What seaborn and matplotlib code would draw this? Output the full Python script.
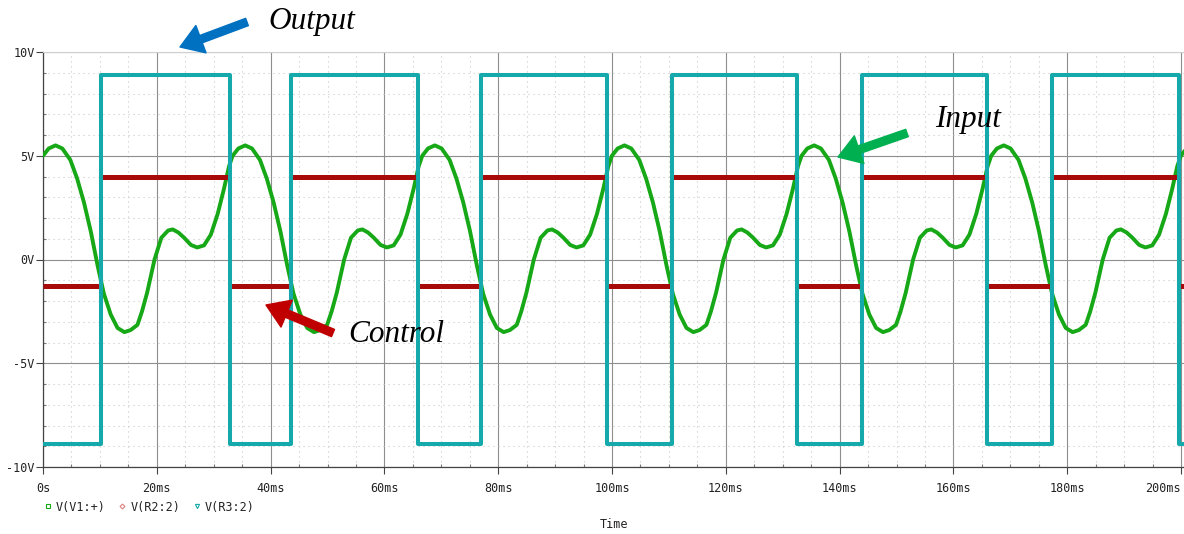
"""Schmitt trigger transient: input, control (threshold) and output traces."""

import matplotlib
matplotlib.use("Agg")
import matplotlib.pyplot as plt
from matplotlib.lines import Line2D
from matplotlib.ticker import MultipleLocator, FuncFormatter
import numpy as np
import pandas as pd
import seaborn as sns

# --- data (time in ms, voltages in V) ---
PERIOD = 33.33
N_CYCLES = 7
T_END = 201.0

# one cycle of the input V(V1:+)
cycle_t = [0.0, 1.0, 2.2, 3.4, 4.8, 6.0, 7.2, 8.4, 9.6, 10.7, 11.9, 13.1, 14.3,
           15.4, 16.6, 17.4, 18.3, 19.6, 20.8, 22.0, 22.8, 23.8, 24.8, 26.0,
           27.1, 28.3, 29.5, 30.7, 31.8, 32.7]
cycle_v = [5.0, 5.35, 5.5, 5.35, 4.8, 3.9, 2.75, 1.35, -0.3, -1.65, -2.65, -3.3,
           -3.5, -3.4, -3.15, -2.5, -1.6, 0.0, 1.05, 1.4, 1.45, 1.3, 1.05, 0.7,
           0.58, 0.68, 1.2, 2.2, 3.4, 4.5]

# switching instants of the comparator output
rise_t = [10.2, 43.6, 77.0, 110.5, 143.9, 177.3]
fall_t = [32.9, 65.9, 99.1, 132.5, 165.9, 199.6]

out_hi, out_lo = 8.9, -8.9     # V(R3:2)
ctl_hi, ctl_lo = 4.0, -1.3     # V(R2:2)

x_ticks = [0, 20, 40, 60, 80, 100, 120, 140, 160, 180, 200]
y_ticks = [-10, -5, 0, 5, 10]

GREEN = "#17a817"
RED = "#a80a0a"
CYAN = "#15a9ac"
FS = 8.5


def step_trace(hi, lo):
    t = [0.0]
    v = [lo]
    for r, f in zip(rise_t, fall_t):
        t += [r, f]
        v += [hi, lo]
    t.append(T_END)
    v.append(lo)
    return pd.DataFrame({"t": t, "v": v})


def level_segments(hi, lo):
    # horizontal pieces only, one unit per piece (no vertical edges)
    edges = [0.0] + sorted(rise_t + fall_t) + [T_END]
    rows = []
    for i in range(len(edges) - 1):
        lvl = lo if i % 2 == 0 else hi
        rows.append({"seg": i, "t": edges[i], "v": lvl})
        rows.append({"seg": i, "t": edges[i + 1], "v": lvl})
    return pd.DataFrame(rows)


inp = pd.DataFrame({
    "t": np.concatenate([np.array(cycle_t) + k * PERIOD for k in range(N_CYCLES)]),
    "v": np.tile(cycle_v, N_CYCLES),
})
ctl = level_segments(ctl_hi, ctl_lo)
out = step_trace(out_hi, out_lo)

sns.set_style("white")
plt.rcParams["font.family"] = ["DejaVu Sans Mono"]

W, H = 1184, 534
fig = plt.figure(figsize=(W / 100, H / 100), dpi=100)
ax = fig.add_axes([43 / W, 1 - 467 / H, (W - 43) / W, 415 / H])

sns.lineplot(data=inp, x="t", y="v", ax=ax, color=GREEN, lw=2.8,
             sort=False, estimator=None, zorder=3)
sns.lineplot(data=ctl, x="t", y="v", units="seg", ax=ax, color=RED, lw=3.6,
             sort=False, estimator=None, zorder=4, solid_capstyle="butt")
sns.lineplot(data=out, x="t", y="v", ax=ax, color=CYAN, lw=2.9,
             sort=False, estimator=None, drawstyle="steps-post", zorder=5)

ax.set_xlim(0, (W - 43) / 5.69)
ax.set_ylim(-10, 10)
ax.set_xticks(x_ticks)
ax.set_yticks(y_ticks)
ax.xaxis.set_minor_locator(MultipleLocator(5))
ax.yaxis.set_minor_locator(MultipleLocator(1))
ax.xaxis.set_major_formatter(FuncFormatter(lambda v, p: "0s" if v == 0 else f"{v:.0f}ms"))
ax.yaxis.set_major_formatter(FuncFormatter(lambda v, p: f"{v:.0f}V"))

ax.grid(which="major", color="#8e8e8e", lw=0.8, ls="-", zorder=0)
ax.grid(which="minor", color="#c8c8c8", lw=0.8, ls=(0, (1, 3.5)), zorder=0)
ax.set_axisbelow(True)

ax.tick_params(which="major", direction="out", length=5, width=0.8, color="#444444",
               labelsize=FS, labelcolor="#222222", bottom=True, left=True)
ax.tick_params(axis="x", which="major", pad=6)
ax.tick_params(axis="y", which="major", pad=1)
ax.tick_params(which="minor", direction="in", length=2, width=0.8, color="#777777",
               bottom=True, left=True)
for side in ["left", "bottom"]:
    ax.spines[side].set_color("#444444")
    ax.spines[side].set_linewidth(0.9)
ax.spines["top"].set_color("#d0d0d0")
ax.spines["top"].set_linewidth(0.8)
ax.spines["right"].set_visible(False)

# last label kept inside the frame, as the simulator does
fig.canvas.draw()
ax.get_xticklabels()[-1].set_ha("right")

ax.set_ylabel("")
ax.set_xlabel("Time", fontsize=FS, color="#222222")
ax.xaxis.set_label_coords(0.5, (467 - 525) / 415)
ax.xaxis.label.set_va("center")

handles = [
    Line2D([], [], ls="none", marker="s", ms=3, mfc="none", mec=GREEN, mew=0.8),
    Line2D([], [], ls="none", marker="D", ms=2.5, mfc="none", mec="#e08080", mew=0.8),
    Line2D([], [], ls="none", marker="v", ms=3, mfc="none", mec=CYAN, mew=0.8),
]
fig.legend(handles, ["V(V1:+)", "V(R2:2)", "V(R3:2)"], ncol=3, frameon=False,
           loc="center left", bbox_to_anchor=(44 / W, 1 - 507 / H),
           prop={"family": "DejaVu Sans Mono", "size": FS},
           handlelength=0.6, handletextpad=0.4, columnspacing=1.1,
           borderpad=0, borderaxespad=0, labelcolor="#222222")

# callouts (figure pixel coordinates, origin bottom-left)
callouts = [
    ("Output", "#0070c0", (268, H - 22), (247, H - 22), (180, H - 47)),
    ("Input", "#00b050", (935, H - 120), (907, H - 133), (838, H - 157)),
    ("Control", "#c00000", (348, H - 335), (333, H - 333), (266, H - 305)),
]
for label, col, txt_xy, tail, tip in callouts:
    ax.annotate("", xy=tip, xytext=tail, xycoords="figure pixels",
                textcoords="figure pixels", annotation_clip=False,
                arrowprops=dict(arrowstyle="simple,head_length=1.15,head_width=1.5,tail_width=0.4",
                                color=col, mutation_scale=14, shrinkA=0, shrinkB=0),
                zorder=10)
    fig.text(txt_xy[0] / W, txt_xy[1] / H, label, ha="left", va="center",
             family="Liberation Serif", style="italic", fontsize=22.5, color="black")

fig.savefig("out.png", dpi=100)
